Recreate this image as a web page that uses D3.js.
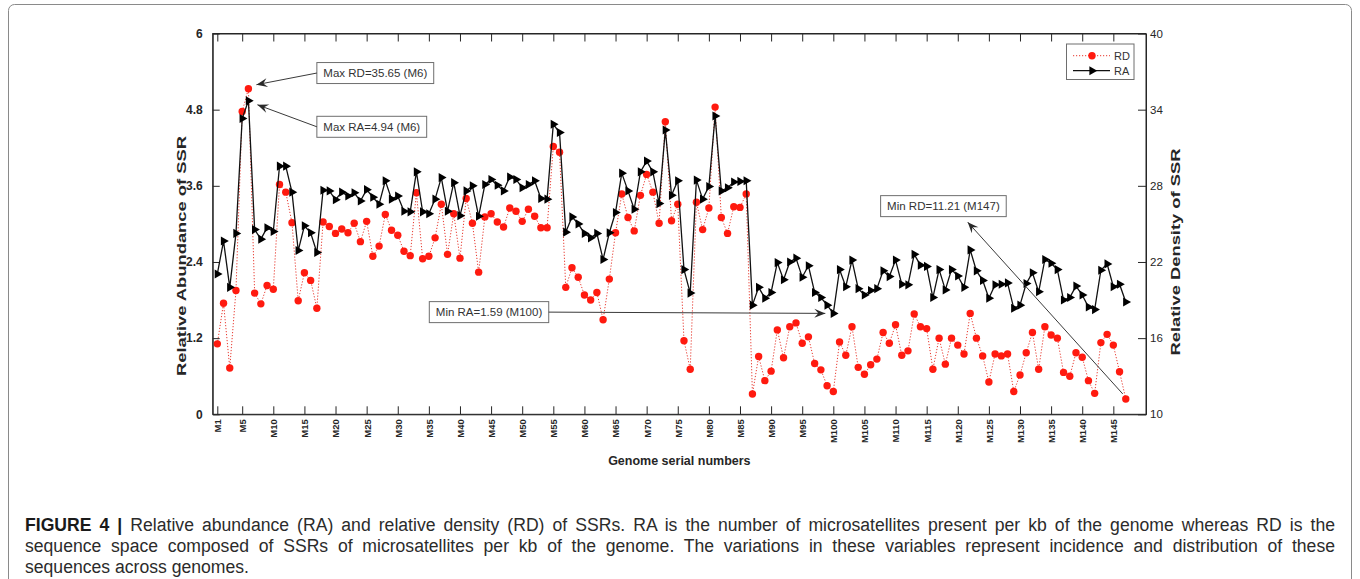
<!DOCTYPE html>
<html lang="en">
<head>
<meta charset="utf-8">
<title>RA and RD of SSRs</title>
<style>
  body { margin: 0; width: 1360px; height: 579px; background: #fff; overflow: hidden; }
  svg text { font-family: "Liberation Sans", Arial, Helvetica, sans-serif; }
  .axis path, .axis line { stroke: #262626; stroke-width: 1; }
  .xaxis text { font-size: 9.5px; font-weight: bold; fill: #262626; }
  .yleft text { font-size: 12px; font-weight: bold; fill: #262626; }
  .yright text { font-size: 11.5px; fill: #262626; }
  .title { font-size: 13px; font-weight: bold; fill: #262626; }
  .note rect { fill: #fff; stroke: #6e6e6e; stroke-width: 1; }
  .note text { font-size: 11.5px; fill: #333; }
  .caption { font-size: 17.6px; fill: #2b2b2b; }
</style>
</head>
<body>
<svg id="chart" width="1360" height="579"></svg>
<script src="https://cdn.jsdelivr.net/npm/d3@7"></script>
<script>
// genome ids M1..M147
var genomes = d3.range(1, 148).map(function (i) { return "M" + i; });

// tick positions on the genome axis
var xTickIdx = [1, 5, 10, 15, 20, 25, 30, 35, 40, 45, 50, 55, 60, 65, 70, 75,
  80, 85, 90, 95, 100, 105, 110, 115, 120, 125, 130, 135, 140, 145];
var raTicks = [0, 1.2, 2.4, 3.6, 4.8, 6];
var rdTicks = [10, 16, 22, 28, 34, 40];

// relative abundance (left axis)
var raValues = [
  2.21, 2.73, 2.00, 2.85, 4.66, 4.94, 2.91, 2.76, 2.94, 2.88,
  3.91, 3.91, 3.50, 2.58, 2.97, 2.86, 2.55, 3.53, 3.52, 3.38,
  3.50, 3.44, 3.49, 3.36, 3.54, 3.42, 3.31, 3.68, 3.39, 3.44,
  3.20, 3.19, 3.82, 3.19, 3.16, 3.39, 3.73, 3.20, 3.65, 3.13,
  3.52, 3.60, 3.12, 3.62, 3.70, 3.61, 3.52, 3.74, 3.70, 3.57,
  3.62, 3.68, 3.40, 3.39, 4.57, 4.44, 2.87, 3.11, 3.00, 2.85,
  2.78, 2.85, 2.44, 2.86, 3.18, 3.80, 3.52, 3.23, 3.82, 3.99,
  3.82, 3.32, 4.48, 3.45, 3.68, 2.28, 1.91, 3.69, 3.39, 3.59,
  4.70, 3.52, 3.57, 3.66, 3.67, 3.68, 1.72, 2.00, 1.83, 1.92,
  2.39, 2.12, 2.40, 2.46, 2.16, 2.34, 1.92, 1.84, 1.72, 1.59,
  2.28, 2.01, 2.43, 1.98, 1.88, 1.95, 1.98, 2.26, 2.17, 2.43,
  2.05, 2.04, 2.52, 2.35, 2.33, 1.84, 2.28, 1.96, 2.28, 2.18,
  2.00, 2.59, 2.26, 2.11, 1.83, 2.04, 2.05, 2.07, 1.67, 1.72,
  2.06, 2.23, 1.93, 2.44, 2.38, 2.28, 1.80, 1.84, 2.02, 1.88,
  1.69, 1.65, 2.27, 2.37, 2.01, 2.05, 1.77
];

// relative density (right axis)
var rdValues = [
  15.55, 18.75, 13.65, 19.75, 33.85, 35.65, 19.55, 18.70, 20.15, 19.85,
  28.10, 27.50, 25.10, 18.95, 21.15, 20.55, 18.35, 25.15, 24.80, 24.25,
  24.60, 24.30, 25.05, 23.60, 25.20, 22.45, 23.25, 25.75, 24.50, 24.10,
  22.85, 22.50, 27.45, 22.25, 22.45, 23.90, 26.55, 22.60, 25.80, 22.30,
  27.00, 25.05, 21.20, 25.55, 25.80, 25.15, 24.75, 26.25, 26.00, 25.20,
  26.15, 25.60, 24.70, 24.70, 31.10, 30.65, 20.00, 21.55, 20.80, 19.40,
  19.00, 19.60, 17.45, 20.65, 24.30, 27.35, 25.50, 24.45, 27.25, 28.90,
  27.50, 25.05, 33.05, 25.25, 26.55, 15.80, 13.55, 26.70, 24.55, 26.25,
  34.20, 25.50, 24.25, 26.35, 26.30, 27.35, 11.60, 14.55, 12.65, 13.40,
  16.65, 14.45, 16.90, 17.20, 15.60, 16.10, 14.00, 13.50, 12.25, 11.80,
  15.70, 14.65, 16.90, 13.70, 13.15, 13.90, 14.35, 16.45, 15.60, 17.05,
  14.65, 15.00, 17.90, 16.90, 16.75, 13.55, 16.00, 13.95, 16.00, 15.45,
  14.75, 17.95, 16.00, 14.60, 12.55, 14.75, 14.60, 14.75, 11.80, 13.10,
  14.85, 16.45, 13.55, 16.90, 16.25, 16.00, 13.30, 13.00, 14.85, 14.50,
  12.65, 11.65, 15.65, 16.30, 15.45, 13.35, 11.21
];

var captionLines = [
  "Relative abundance (RA) and relative density (RD) of SSRs. RA is the number of microsatellites present per kb of the genome whereas RD is the",
  "sequence space composed of SSRs of microsatellites per kb of the genome. The variations in these variables represent incidence and distribution of these",
  "sequences across genomes."
];

var svg = d3.select("#chart");
var plotLeft = 212.7, plotRight = 1146, plotTop = 33.5, plotBottom = 414.3;

var x = d3.scaleLinear().domain([0.26, 150.25]).range([plotLeft, plotRight]);
var yL = d3.scaleLinear().domain([0, 6]).range([plotBottom, plotTop]);
var yR = d3.scaleLinear().domain([10, 40]).range([plotBottom, plotTop]);

// outer frame of the figure panel
svg.append("rect")
  .attr("x", 8.5).attr("y", 4.5)
  .attr("width", 1343).attr("height", 640)
  .attr("rx", 6)
  .attr("fill", "none")
  .attr("stroke", "#8a8a8a");

// axes
var gx = svg.append("g").attr("class", "axis xaxis")
  .attr("transform", "translate(0," + plotBottom + ")")
  .call(d3.axisBottom(x).tickValues(xTickIdx).tickSize(-8).tickSizeOuter(0)
    .tickFormat(function (d) { return genomes[d - 1]; }));
gx.selectAll("text")
  .attr("transform", "rotate(-90)")
  .attr("x", -5).attr("y", 0).attr("dy", "0.36em")
  .style("text-anchor", "end");

svg.append("g").attr("class", "axis")
  .attr("transform", "translate(0," + plotTop + ")")
  .call(d3.axisTop(x).tickValues(xTickIdx).tickSize(-8).tickSizeOuter(0).tickFormat(""));

svg.append("g").attr("class", "axis yleft")
  .attr("transform", "translate(" + plotLeft + ",0)")
  .call(d3.axisLeft(yL).tickValues(raTicks).tickSize(-7).tickSizeOuter(0).tickPadding(10)
    .tickFormat(function (d) { return d === 0 || d === 6 ? d : d3.format(".1f")(d); }));

svg.append("g").attr("class", "axis yright")
  .attr("transform", "translate(" + plotRight + ",0)")
  .call(d3.axisRight(yR).tickValues(rdTicks).tickSize(-8).tickSizeOuter(0).tickPadding(4));

// axis titles
svg.append("text").attr("class", "title")
  .attr("transform", "translate(186,256) rotate(-90)")
  .attr("text-anchor", "middle")
  .attr("textLength", 240).attr("lengthAdjust", "spacingAndGlyphs")
  .text("Relative Abundance of SSR");
svg.append("text").attr("class", "title")
  .attr("transform", "translate(1180,252) rotate(-90)")
  .attr("text-anchor", "middle")
  .attr("textLength", 207).attr("lengthAdjust", "spacingAndGlyphs")
  .text("Relative Density of SSR");
svg.append("text").attr("class", "title")
  .attr("x", (plotLeft + plotRight) / 2).attr("y", 465)
  .attr("text-anchor", "middle")
  .style("font-size", "12.5px")
  .text("Genome serial numbers");

// RD series: dotted red line with dots
var plot = svg.append("g");
var rdLine = d3.line()
  .x(function (d, i) { return x(i + 1); })
  .y(function (d) { return yR(d); });
plot.append("path")
  .datum(rdValues)
  .attr("d", rdLine)
  .attr("fill", "none")
  .attr("stroke", "#e8392f")
  .attr("stroke-width", 1)
  .attr("stroke-dasharray", "1.2,1.8");
plot.selectAll(".rd")
  .data(rdValues)
  .enter().append("circle")
  .attr("class", "rd")
  .attr("cx", function (d, i) { return x(i + 1); })
  .attr("cy", function (d) { return yR(d); })
  .attr("r", 3.7)
  .attr("fill", "#ff1a0f");

// RA series: solid black line with right-pointing triangles
var raLine = d3.line()
  .x(function (d, i) { return x(i + 1); })
  .y(function (d) { return yL(d); });
plot.append("path")
  .datum(raValues)
  .attr("d", raLine)
  .attr("fill", "none")
  .attr("stroke", "#111")
  .attr("stroke-width", 1.3);
var tri = d3.symbol().type(d3.symbolTriangle).size(36);
plot.selectAll(".ra")
  .data(raValues)
  .enter().append("path")
  .attr("class", "ra")
  .attr("d", tri)
  .attr("transform", function (d, i) {
    return "translate(" + x(i + 1) + "," + yL(d) + ") rotate(90)";
  })
  .attr("fill", "#000");

// plot box
svg.append("rect")
  .attr("x", plotLeft).attr("y", plotTop)
  .attr("width", plotRight - plotLeft).attr("height", plotBottom - plotTop)
  .attr("fill", "none").attr("stroke", "#262626");

// legend
var lg = svg.append("g");
lg.append("rect")
  .attr("x", 1066.5).attr("y", 44).attr("width", 67.5).attr("height", 35.5)
  .attr("fill", "#fff").attr("stroke", "#6e6e6e");
lg.append("line")
  .attr("x1", 1073).attr("x2", 1110).attr("y1", 55.7).attr("y2", 55.7)
  .attr("stroke", "#e8392f").attr("stroke-dasharray", "1.2,1.8");
lg.append("circle").attr("cx", 1092).attr("cy", 55.7).attr("r", 3.7).attr("fill", "#ff1a0f");
lg.append("line")
  .attr("x1", 1073).attr("x2", 1110).attr("y1", 70.7).attr("y2", 70.7)
  .attr("stroke", "#111").attr("stroke-width", 1.3);
lg.append("path").attr("d", tri)
  .attr("transform", "translate(1092,70.7) rotate(90)").attr("fill", "#000");
lg.append("text").attr("x", 1114).attr("y", 59.7).style("font-size", "11px").attr("fill", "#333").text("RD");
lg.append("text").attr("x", 1114).attr("y", 74.7).style("font-size", "11px").attr("fill", "#333").text("RA");

// annotations
var notes = svg.append("g").attr("class", "note");

function noteBox(label, bx, cy) {
  var g = notes.append("g");
  var t = g.append("text").attr("x", bx + 6.5).attr("y", cy + 4).text(label);
  var w = t.node().getComputedTextLength() + 13;
  g.insert("rect", "text")
    .attr("x", bx).attr("y", cy - 10.5)
    .attr("width", w).attr("height", 21);
  return bx + w;
}

function arrow(x1, y1, x2, y2) {
  var a = Math.atan2(y2 - y1, x2 - x1) * 180 / Math.PI;
  notes.append("line")
    .attr("x1", x1).attr("y1", y1).attr("x2", x2).attr("y2", y2)
    .attr("stroke", "#3a3a3a").attr("stroke-width", 1);
  notes.append("path")
    .attr("d", "M0,0L-11,-4.5L-7,0L-11,4.5Z")
    .attr("transform", "translate(" + x2 + "," + y2 + ") rotate(" + a + ")")
    .attr("fill", "#2a2a2a");
}

var bxMax = x(17.0);
noteBox("Max RD=35.65 (M6)", bxMax, yL(5.377));
arrow(bxMax, yL(5.377), x(6) + 8, yR(35.65) - 4);
noteBox("Max RA=4.94 (M6)", bxMax, yL(4.53));
arrow(bxMax, yL(4.53), x(6) + 9, yL(4.94) + 4);

var raEnd = noteBox("Min RA=1.59 (M100)", x(35.07), yL(1.61));
arrow(raEnd, yL(1.61), x(100) - 8, yL(1.59));

var rdCy = yL(3.28);
noteBox("Min RD=11.21 (M147)", x(107.6), rdCy);
arrow(x(147) - 3, yR(11.21) - 5, x(121.6), rdCy + 16);

// caption, first two lines justified to the right margin
var cap = svg.append("g").attr("class", "caption");
var capRight = 1335;
captionLines.forEach(function (line, i) {
  var t = cap.append("text").attr("x", 25).attr("y", 531 + i * 21);
  if (i === 0) {
    t.append("tspan").style("font-weight", "bold").attr("fill", "#1a1a1a").text("FIGURE 4 | ");
  }
  t.append("tspan").text(line);
  if (i < captionLines.length - 1) {
    var natural = t.node().getComputedTextLength();
    var gaps = (i === 0 ? "FIGURE 4 | " + line : line).split(" ").length - 1;
    t.style("word-spacing", ((capRight - 25 - natural) / gaps) + "px");
  }
});
</script>
</body>
</html>
